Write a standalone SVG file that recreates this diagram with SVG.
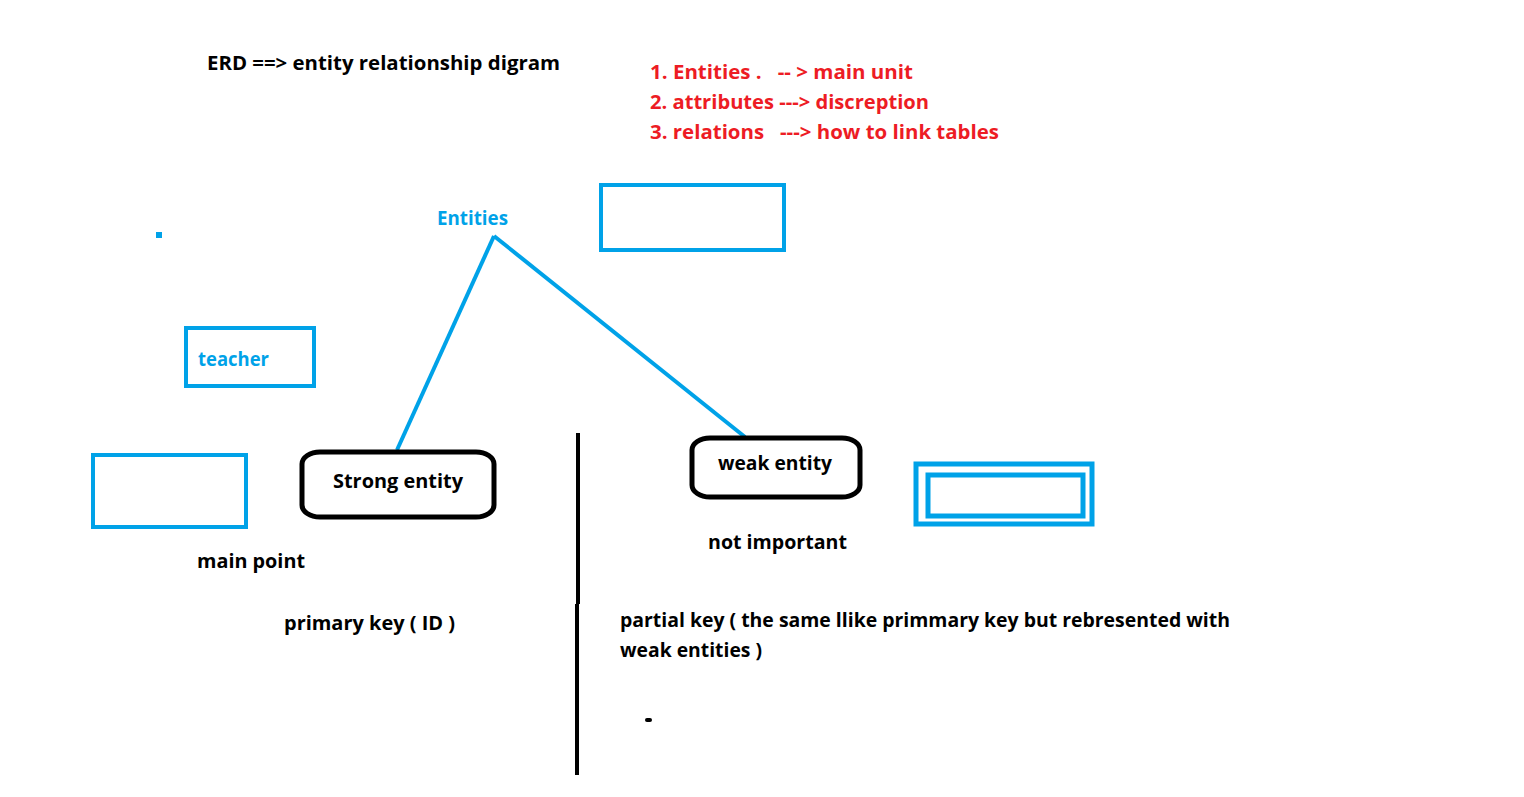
<svg xmlns="http://www.w3.org/2000/svg" width="1524" height="797" viewBox="0 0 1524 797">
<style>
text{font-family:"Open Sans","Noto Sans","DejaVu Sans",sans-serif;font-weight:bold;font-size:20px}
.k{fill:#000}
.r{fill:#ED1C24}
.b{fill:#00A2E8}
.bx{fill:none;stroke:#00A2E8;stroke-width:4}
.rr{fill:#fff;stroke:#000;stroke-width:5}
.cn{stroke:#00A2E8;stroke-width:4;fill:none}
</style>
<rect width="1524" height="797" fill="#fff"/>
<text class="k" x="207" y="70" textLength="353" lengthAdjust="spacingAndGlyphs">ERD ==&gt; entity relationship digram</text>
<g id="legend">
<text class="r" x="650" y="79" textLength="263" lengthAdjust="spacingAndGlyphs" xml:space="preserve">1. Entities .   -- &gt; main unit</text>
<text class="r" x="650" y="109" textLength="279" lengthAdjust="spacingAndGlyphs">2. attributes ---&gt; discreption</text>
<text class="r" x="650" y="139" textLength="349" lengthAdjust="spacingAndGlyphs" xml:space="preserve">3. relations   ---&gt; how to link tables</text>
</g>
<g id="connectors">
<line class="cn" x1="494" y1="236" x2="397" y2="450"/>
<line class="cn" x1="494" y1="236" x2="745" y2="437"/>
<line x1="578" y1="433" x2="578" y2="604" stroke="#000" stroke-width="4"/>
<line x1="577" y1="604" x2="577" y2="775" stroke="#000" stroke-width="4"/>
</g>
<g id="entities">
<text class="b" x="437" y="225" textLength="71" lengthAdjust="spacingAndGlyphs">Entities</text>
</g>
<g id="box-top">
<rect class="bx" x="601" y="185" width="183" height="65"/>
</g>
<rect x="156" y="232" width="6" height="6" fill="#00A2E8"/>
<g id="teacher">
<rect class="bx" x="186" y="328" width="128" height="58"/>
<text class="b" x="198" y="366" textLength="71" lengthAdjust="spacingAndGlyphs">teacher</text>
</g>
<g id="box-left">
<rect class="bx" x="93" y="455" width="153" height="72"/>
</g>
<g id="strong-entity">
<rect class="rr" x="302" y="452" width="192" height="65" rx="18" ry="12"/>
<text class="k" x="333" y="488" textLength="130" lengthAdjust="spacingAndGlyphs">Strong entity</text>
</g>
<g id="weak-entity">
<rect class="rr" x="692" y="438" width="168" height="59" rx="18" ry="12"/>
<text class="k" x="718" y="470" textLength="114" lengthAdjust="spacingAndGlyphs">weak entity</text>
</g>
<g id="weak-box">
<rect x="916" y="464" width="176" height="60" fill="none" stroke="#00A2E8" stroke-width="5"/>
<rect x="928" y="475" width="155" height="41" fill="none" stroke="#00A2E8" stroke-width="5"/>
</g>
<text class="k" x="197" y="568" textLength="108" lengthAdjust="spacingAndGlyphs">main point</text>
<text class="k" x="284" y="630" textLength="171" lengthAdjust="spacingAndGlyphs">primary key ( ID )</text>
<text class="k" x="708" y="549" textLength="139" lengthAdjust="spacingAndGlyphs">not important</text>
<text class="k" x="620" y="627" textLength="610" lengthAdjust="spacingAndGlyphs">partial key ( the same llike primmary key but rebresented with</text>
<text class="k" x="620" y="657" textLength="142" lengthAdjust="spacingAndGlyphs">weak entities )</text>
<rect x="645" y="718" width="7" height="4" rx="2" fill="#000"/>
</svg>
